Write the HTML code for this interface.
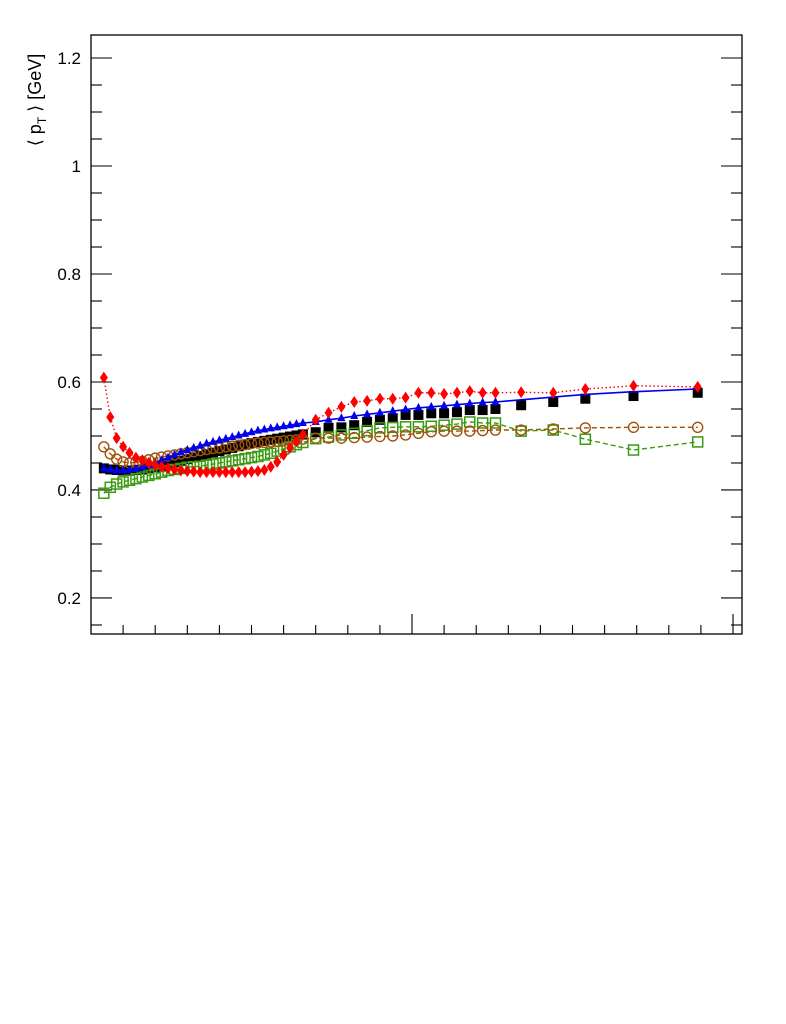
<!DOCTYPE html>
<html><head><meta charset="utf-8"><style>
html,body{margin:0;padding:0;background:#fff;}
svg{display:block;font-family:"Liberation Sans",Arial,sans-serif;}
</style></head><body>
<svg id="chart" width="786" height="1024" viewBox="0 0 786 1024" xmlns="http://www.w3.org/2000/svg">
<rect x="0" y="0" width="786" height="1024" fill="#fff"/>
<g id="axes"></g>
<g id="series"></g>
<text transform="translate(41,100) rotate(-90)" text-anchor="middle" font-size="18" fill="#000">⟨ p<tspan font-size="12" dy="5">T</tspan><tspan dy="-5"> ⟩ [GeV]</tspan></text>
</svg>
<script>
const xValues = [0.4,0.6,0.8,1.0,1.2,1.4,1.6,1.8,2.0,2.2,2.4,2.6,2.8,3.0,3.2,3.4,3.6,3.8,4.0,4.2,4.4,4.6,4.8,5.0,5.2,5.4,5.6,5.8,6.0,6.2,6.4,6.6,
 7.0,7.4,7.8,8.2,8.6,9.0,9.4,9.8,10.2,10.6,11.0,11.4,11.8,12.2,12.6,
 13.4,14.4,15.4,16.9,18.9];
const redValues = [0.608,0.535,0.496,0.480,0.469,0.460,0.455,0.450,0.446,0.443,0.440,0.438,0.436,0.435,0.434,0.433,0.433,0.433,0.433,0.433,0.433,0.433,0.433,0.434,0.435,0.437,0.443,0.452,0.465,0.478,0.490,0.502,
 0.530,0.543,0.554,0.563,0.565,0.569,0.569,0.571,0.580,0.580,0.578,0.580,0.583,0.580,0.580,
 0.581,0.580,0.587,0.593,0.591];
const blueValues = [0.440,0.438,0.436,0.436,0.437,0.439,0.442,0.446,0.450,0.455,0.460,0.465,0.470,0.474,0.478,0.482,0.486,0.489,0.492,0.495,0.498,0.501,0.504,0.507,0.510,0.512,0.514,0.516,0.518,0.520,0.522,0.524,
 0.526,0.530,0.533,0.537,0.540,0.543,0.546,0.549,0.552,0.554,0.556,0.558,0.560,0.562,0.563,
 0.567,0.572,0.577,0.582,0.587];
const blueMarkerCount = 47;
const blackValues = [0.440,0.438,0.437,0.436,0.436,0.437,0.438,0.440,0.442,0.445,0.448,0.451,0.454,0.457,0.460,0.463,0.466,0.469,0.472,0.475,0.478,0.481,0.484,0.487,0.489,0.491,0.493,0.495,0.497,0.499,0.501,0.503,
 0.507,0.515,0.516,0.520,0.526,0.530,0.533,0.539,0.539,0.542,0.542,0.544,0.548,0.548,0.550,
 0.557,0.563,0.569,0.574,0.580];
const brownValues = [0.480,0.467,0.457,0.452,0.450,0.451,0.453,0.456,0.459,0.461,0.463,0.465,0.467,0.469,0.471,0.473,0.475,0.477,0.478,0.480,0.481,0.483,0.484,0.486,0.487,0.488,0.489,0.490,0.491,0.492,0.493,0.494,
 0.496,0.496,0.496,0.497,0.498,0.499,0.500,0.502,0.505,0.508,0.509,0.509,0.509,0.510,0.511,
 0.511,0.513,0.515,0.516,0.516];
const greenValues = [0.394,0.405,0.411,0.415,0.418,0.421,0.424,0.427,0.430,0.433,0.436,0.438,0.440,0.442,0.443,0.444,0.446,0.448,0.450,0.452,0.454,0.456,0.458,0.460,0.462,0.465,0.468,0.472,0.476,0.480,0.484,0.488,
 0.495,0.498,0.502,0.505,0.510,0.515,0.516,0.517,0.517,0.518,0.520,0.522,0.526,0.524,0.524,
 0.509,0.511,0.494,0.474,0.489];
const yTickLabels = ["0.2","0.4","0.6","0.8","1","1.2"];
const yTickValues = [0.2,0.4,0.6,0.8,1.0,1.2];

const NS = "http://www.w3.org/2000/svg";
const L=91,R=742,T=35,B=634;
const X0=0, X1=20.28, Y0=0.1333, Y1=1.2426;
function xs(v){return L+(v-X0)/(X1-X0)*(R-L);}
function ys(v){return B-(v-Y0)/(Y1-Y0)*(B-T);}
function mk(tag,attrs,parent){const e=document.createElementNS(NS,tag);for(const k in attrs)e.setAttribute(k,attrs[k]);parent.appendChild(e);return e;}

const axes=document.getElementById('axes');
const frame=mk('rect',{x:L,y:T,width:R-L,height:B-T,fill:'none',stroke:'#000','stroke-width':1.3},axes);


// y ticks (minor every 0.05)
for(let v=0.15;v<=1.2401;v+=0.05){
  const major=yTickValues.some(t=>Math.abs(t-v)<1e-6);
  const len=major?21:11;const y=ys(v);
  const t1=mk('line',{x1:L,x2:L+len,y1:y,y2:y,stroke:'#000','stroke-width':1.1},axes);
  
  
  const t2=mk('line',{x1:R,x2:R-len,y1:y,y2:y,stroke:'#000','stroke-width':1.1},axes);
  
  
}
yTickLabels.forEach((lab,i)=>{
  const t=mk('text',{x:81,y:ys(yTickValues[i])+6,'text-anchor':'end','font-size':17,fill:'#000'},axes);
  t.textContent=lab;
  
  
});
// x ticks
for(let v=1;v<=20;v++){
  const major=(v%10===0);const len=major?20:9;const x=xs(v);
  const t=mk('line',{x1:x,x2:x,y1:B,y2:B-len,stroke:'#000','stroke-width':1.1},axes);
  
  
}

const sg=document.getElementById('series');
function drawLine(vals,n,attrs,name){
  const pts=[];for(let i=0;i<n;i++)pts.push(xs(xValues[i]).toFixed(1)+','+ys(vals[i]).toFixed(1));
  const p=mk('polyline',Object.assign({points:pts.join(' '),fill:'none'},attrs),sg);
  
  
}
drawLine(brownValues,xValues.length,{stroke:'#a0520a','stroke-width':1.4,'stroke-dasharray':'5,3'},'brown-line');
drawLine(greenValues,xValues.length,{stroke:'#3a9a10','stroke-width':1.4,'stroke-dasharray':'5,3'},'green-line');

// black squares
xValues.forEach((xv,i)=>{
  const x=xs(xv),y=ys(blackValues[i]);
  const r=mk('rect',{x:x-5,y:y-5,width:10,height:10,fill:'#000'},sg);
  
  
});
// green squares
xValues.forEach((xv,i)=>{
  const x=xs(xv),y=ys(greenValues[i]);
  const r=mk('rect',{x:x-5,y:y-5,width:10,height:10,fill:'none',stroke:'#3a9a10','stroke-width':1.5},sg);
  
  
});
// brown circles
xValues.forEach((xv,i)=>{
  const c=mk('circle',{cx:xs(xv),cy:ys(brownValues[i]),r:5,fill:'none',stroke:'#a0520a','stroke-width':1.4},sg);
  
  
});
// blue line + triangles
drawLine(blueValues,xValues.length,{stroke:'#0000ee','stroke-width':1.6},'blue-line');
for(let i=0;i<blueMarkerCount;i++){
  const x=xs(xValues[i]),y=ys(blueValues[i]);
  const p=mk('polygon',{points:`${x},${y-5} ${x-4},${y+3} ${x+4},${y+3}`,fill:'#0000ee'},sg);
  
  
}
// red dotted line + diamonds
drawLine(redValues,xValues.length,{stroke:'#ff0000','stroke-width':1.4,'stroke-dasharray':'1.5,2.5'},'red-line');
xValues.forEach((xv,i)=>{
  const x=xs(xv),y=ys(redValues[i]);
  const p=mk('polygon',{points:`${x},${y-6} ${x+4},${y} ${x},${y+6} ${x-4},${y}`,fill:'#ff0000'},sg);
  
  
});
</script>
</body></html>
